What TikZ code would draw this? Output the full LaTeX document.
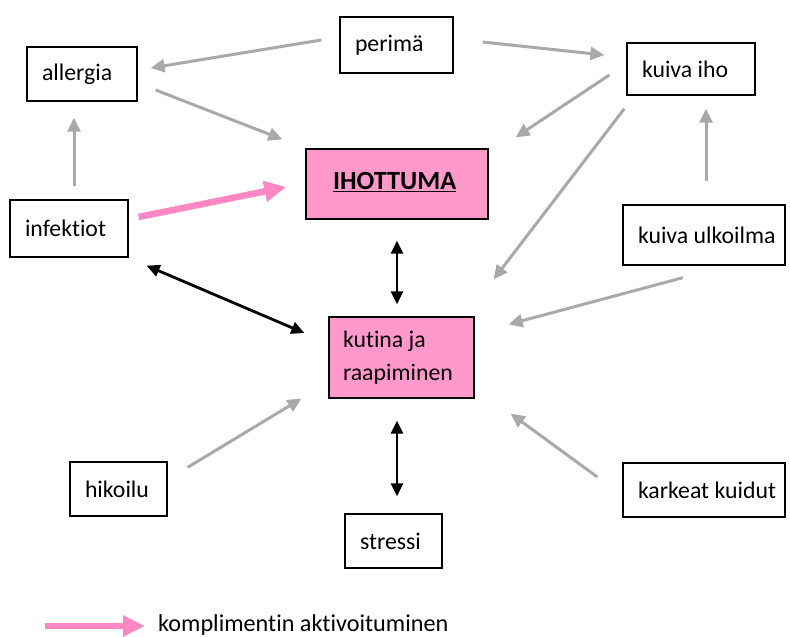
\documentclass[tikz,border=0pt]{standalone}
\usepackage{fontspec}
\setmainfont{Carlito}[Ligatures={NoCommon,NoContextual}]
\usetikzlibrary{arrows.meta,calc}
\definecolor{arrgray}{HTML}{A9A9A9}
\definecolor{boxpink}{HTML}{FF99CC}
\definecolor{arrpink}{HTML}{FF88C4}
\newcommand{\lbox}[2]{\makebox[#1][l]{#2}}
\begin{document}
\begin{tikzpicture}[x=1pt,y=-1pt,
  box/.style={draw=black, line width=1.3pt, inner xsep=15pt, inner ysep=0pt, font=\fontsize{23.8}{33}\selectfont},
  gar/.style={draw=arrgray, line width=3pt, -{Triangle[length=14pt,width=13pt]}},
  bar/.style={draw=black, line width=2.8pt, {Triangle[length=13pt,width=12pt]}-{Triangle[length=13pt,width=12pt]}},
  par/.style={draw=arrpink, line width=6.5pt, -{Triangle[length=22pt,width=20pt]}}]
\useasboundingbox (0,0) rectangle (790,637);
% boxes
\node[box, minimum height=56pt] (perima) at (396.5,45) {\lbox{83pt}{perimä}};
\node[box, minimum height=54pt] (allergia) at (82,74) {\lbox{80pt}{allergia}};
\node[box, minimum height=52pt] (kuivaiho) at (691,69) {\lbox{98pt}{kuiva iho}};
\node[box, fill=boxpink, inner xsep=27pt, minimum height=70pt, font=\fontsize{26.3}{30}\selectfont\bfseries] (ihottuma) at (397,184) {\lbox{128pt}{\raisebox{6pt}{\underline{IHOTTUMA}}}};
\node[box, minimum height=57pt] (infektiot) at (69,228.5) {\lbox{88pt}{infektiot}};
\node[box, minimum height=60pt] (ulkoilma) at (704,235) {\lbox{132pt}{kuiva ulkoilma}};
\node[box, fill=boxpink, inner xsep=14pt, minimum height=81pt] (kutina) at (401.5,357.5) {\lbox{117pt}{\raisebox{-3pt}{\begin{tabular}{@{}l@{}}kutina ja\\raapiminen\end{tabular}}}};
\node[box, minimum height=54pt] (hikoilu) at (118.5,489) {\lbox{67pt}{hikoilu}};
\node[box, minimum height=54pt] (karkeat) at (704,490) {\lbox{132pt}{karkeat kuidut}};
\node[box, minimum height=54pt] (stressi) at (393.5,541) {\lbox{67pt}{stressi}};
% gray arrows
\draw[gar] ($(perima.west)+(-18,-5)$) -- ($(allergia.east)+(13,-6)$);
\draw[gar] ($(perima.east)+(29,-3)$) -- ($(kuivaiho.west)+(-22,-14)$);
\draw[gar] ($(allergia.east)+(18,16)$) -- ($(ihottuma.north west)+(-23,-9)$);
\draw[gar] ($(kuivaiho.west)+(-17,6)$) -- ($(ihottuma.north east)+(27,-11)$);
\draw[gar] ($(kuivaiho.south west)+(-2,13)$) -- ($(kutina.north east)+(19,-37)$);
\draw[gar] ($(ulkoilma.north)+(2,-23)$) -- ($(kuivaiho.south)+(15,13)$);
\draw[gar] ($(ulkoilma.south)+(-21,12)$) -- ($(kutina.north east)+(34,8)$);
\draw[gar] ($(infektiot.north)+(5,-13)$) -- ($(allergia.south)+(-8,16)$);
\draw[gar] ($(hikoilu.north east)+(20,6)$) -- ($(kutina.south west)+(-27,0)$);
\draw[gar] ($(karkeat.west)+(-25,-13)$) -- ($(kutina.south east)+(36,15)$);
% pink arrow
\draw[par] ($(infektiot.east)+(10,-11.5)$) -- ($(ihottuma.west)+(-19,3)$);
% black double arrows
\draw[bar] ($(infektiot.south east)+(18,8)$) -- ($(kutina.west)+(-24,-24.5)$);
\draw[bar] ($(ihottuma.south)+(0,21)$) -- ($(kutina.north)+(-4.5,-12)$);
\draw[bar] ($(kutina.south)+(-4.5,22)$) -- ($(stressi.north)+(3.5,-17)$);
% legend
\coordinate (lgA) at (45,626);
\coordinate (lgB) at (145,626);
\draw[par] (lgA) -- (lgB);
\node[anchor=west, inner sep=0pt, font=\fontsize{24.2}{28}\selectfont] (legend) at (158,625) {komplimentin aktivoituminen};
\end{tikzpicture}
\end{document}
